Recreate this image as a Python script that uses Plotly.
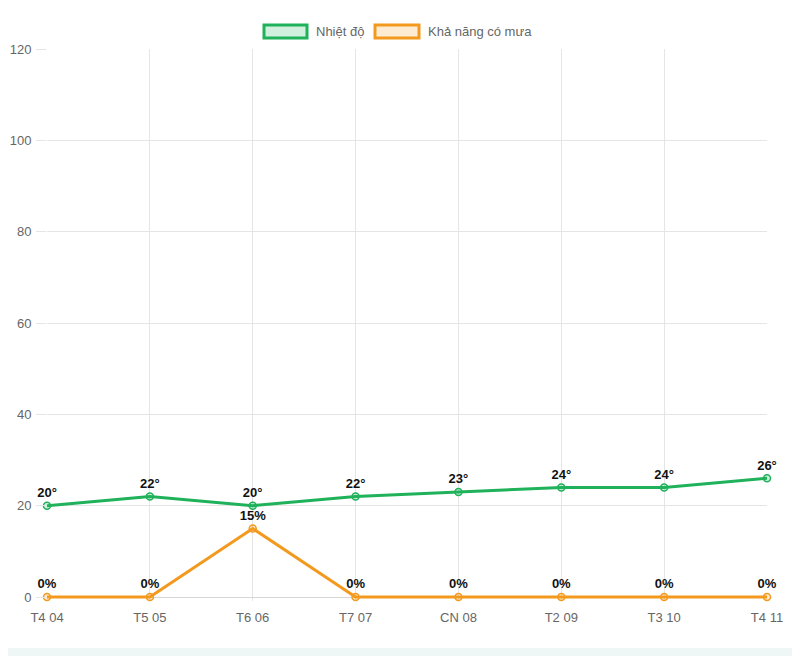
import plotly.graph_objects as go

categories = ["T4 04", "T5 05", "T6 06", "T7 07", "CN 08", "T2 09", "T3 10", "T4 11"]
temperature = [20, 22, 20, 22, 23, 24, 24, 26]
rain_chance = [0, 0, 15, 0, 0, 0, 0, 0]
y_ticks = [0, 20, 40, 60, 80, 100, 120]

GREEN = "#1fb25a"
ORANGE = "#f39a1e"

OFF = 8  # page body margin
W, H = 792, 648
PXU = 548 / 120          # pixels per unit in the reference
PAD = 4                  # extra pixels below zero so the zero line is not clipped
YMIN = -PAD / PXU
L, T = 47 - OFF, 49 - OFF
R = W - (767 - OFF)
B = H - (597 - OFF) - PAD

fig = go.Figure()
fig.add_trace(go.Scatter(
    x=categories, y=temperature, mode="lines+markers+text",
    text=[f"<b>{v}°</b>" for v in temperature], textposition="top center",
    textfont=dict(family="Arial, Liberation Sans", size=13, color="#111"),
    line=dict(color=GREEN, width=3),
    marker=dict(size=7, color="rgba(31,178,90,0.2)", line=dict(color=GREEN, width=1.5)),
    cliponaxis=False, showlegend=False, name="Nhiệt độ"))
fig.add_trace(go.Scatter(
    x=categories, y=rain_chance, mode="lines+markers+text",
    text=[f"<b>{v}%</b>" for v in rain_chance], textposition="top center",
    textfont=dict(family="Arial, Liberation Sans", size=13, color="#111"),
    line=dict(color=ORANGE, width=3),
    marker=dict(size=7, color="rgba(243,154,30,0.2)", line=dict(color=ORANGE, width=1.5)),
    cliponaxis=False, showlegend=False, name="Khả năng có mưa"))

pw, ph = W - L - R, H - T - B
def px(x): return (x - OFF - L) / pw
def py(y): return (H - B - (y - OFF)) / ph

shapes = [
    dict(type="rect", xref="paper", yref="paper", x0=px(264), x1=px(307), y0=py(38), y1=py(25),
         line=dict(color=GREEN, width=3), fillcolor="rgba(31,178,90,0.2)"),
    dict(type="rect", xref="paper", yref="paper", x0=px(375), x1=px(419), y0=py(38), y1=py(25),
         line=dict(color=ORANGE, width=3), fillcolor="rgba(243,154,30,0.2)"),
    dict(type="rect", xref="paper", yref="paper", x0=px(0), x1=px(810), y0=py(648), y1=py(660),
         line=dict(width=0), fillcolor="#eef6f6", layer="below"),
]
annotations = [
    dict(xref="paper", yref="paper", x=px(314), y=py(31.5), text="Nhiệt độ", showarrow=False,
         xanchor="left", yanchor="middle", font=dict(size=13, color="#666")),
    dict(xref="paper", yref="paper", x=px(426), y=py(31.5), text="Khả năng có mưa", showarrow=False,
         xanchor="left", yanchor="middle", font=dict(size=13, color="#666")),
]

fig.update_layout(
    width=W, height=H, margin=dict(l=L, r=R, t=T, b=B),
    paper_bgcolor="white", plot_bgcolor="white",
    font=dict(family="Arial, Liberation Sans, sans-serif", size=13, color="#666"),
    shapes=shapes, annotations=annotations,
    xaxis=dict(type="category", range=[0, len(categories) - 1], showgrid=True, gridcolor="#e5e5e5",
               gridwidth=1, showline=False, ticks="", ticklabelstandoff=7, automargin=False,
               tickfont=dict(size=13, color="#666"), zeroline=False),
    yaxis=dict(range=[YMIN, 120], tickvals=y_ticks, showgrid=True, gridcolor="#e5e5e5", gridwidth=1,
               showline=False, ticks="outside", ticklen=10, tickcolor="#e5e5e5",
               ticklabelstandoff=2, automargin=False,
               zeroline=True, zerolinecolor="#d6d6d6", zerolinewidth=1,
               tickfont=dict(size=13, color="#666")),
)
fig.write_html("out.html")
